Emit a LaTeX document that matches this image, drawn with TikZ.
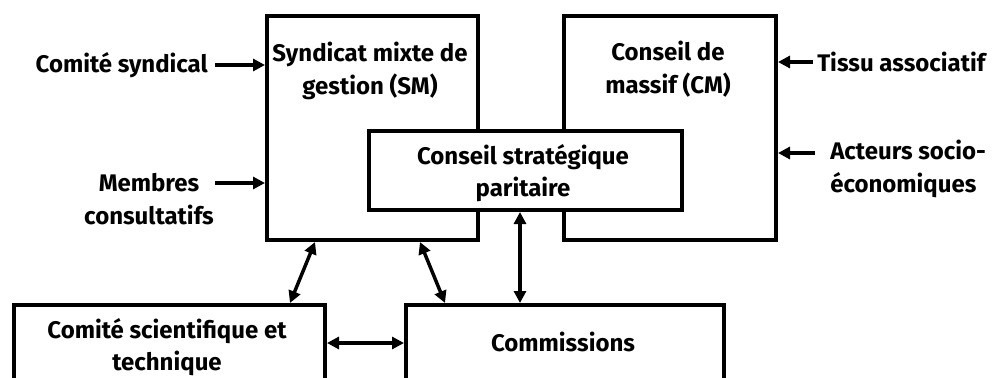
\documentclass[tikz,border=0pt]{standalone}
\usepackage{fontspec}
\setmainfont{Fira Sans}
\usetikzlibrary{arrows.meta,calc}
\begin{document}
\begin{tikzpicture}[x=0.75pt,y=-0.75pt,
  box/.style={draw=black,line width=3pt,fill=white,inner sep=0pt,anchor=north west},
  lbl/.style={font=\bfseries\fontsize{18}{24.5}\selectfont,align=center,inner sep=0pt},
  lbll/.style={font=\bfseries\fontsize{18}{24.5}\selectfont,align=left,inner sep=0pt},
  arr/.style={line width=2.6pt,-{Triangle[length=9pt,width=9pt]}},
  darr/.style={line width=2.6pt,{Triangle[length=9pt,width=9pt]}-{Triangle[length=9pt,width=9pt]}}]
\useasboundingbox (0,0) rectangle (1004,378);
\clip (0,0) rectangle (1004,378);
% boxes
\node[box,minimum width=211*0.75pt,minimum height=224*0.75pt] (sm) at (265,14) {};
\node[box,minimum width=212*0.75pt,minimum height=224*0.75pt] (cm) at (562,14) {};
\node[box,minimum width=313*0.75pt,minimum height=79*0.75pt] (csp) at (367,129) {};
\node[box,minimum width=311*0.75pt,minimum height=120*0.75pt] (cst) at (12,303) {};
\node[box,minimum width=318*0.75pt,minimum height=120*0.75pt] (com) at (404,303) {};
% texts
\node[lbl] (tsm) at (370,71) {Syndicat mixte de\\gestion (SM)};
\node[lbl] (tcm) at (668,69) {Conseil de\\massif (CM)};
\node[lbl] (tcsp) at (523,173) {Conseil stratégique\\paritaire};
\node[lbl] (tcst) at (167,347) {Comité scientifique et\\technique};
\node[lbl] (tcom) at (563,342) {Commissions};
\node[lbl,anchor=east] (cs) at (208,65) {Comité syndical};
\node[lbl] (mc) at (149,199) {Membres\\consultatifs};
\node[lbll,anchor=west] (ta) at (817,62) {Tissu associatif};
\node[lbll,anchor=west] (as) at (830,169) {Acteurs socio-\\économiques};
% arrows
\coordinate (c1) at (215,65);
\coordinate (c2) at (215,183);
\coordinate (c3) at (813,62);
\coordinate (c4) at (815,153);
\draw[arr] (c1) -- (c1 -| sm.west);
\draw[arr] (c2) -- (c2 -| sm.west);
\draw[arr] (c3) -- (c3 -| cm.east);
\draw[arr] (c4) -- (c4 -| cm.east);
\draw[darr] ($(sm.south west)+(50,0)$) -- ($(cst.north west)+(278,0)$);
\draw[darr] ($(sm.south west)+(155,0)$) -- ($(com.north west)+(41,0)$);
\draw[darr] ($(csp.south west)+(153,0)$) -- ($(com.north west)+(116,0)$);
\draw[darr] ($(cst.north east)+(0,40)$) -- ($(com.north west)+(0,40)$);
\end{tikzpicture}
\end{document}
